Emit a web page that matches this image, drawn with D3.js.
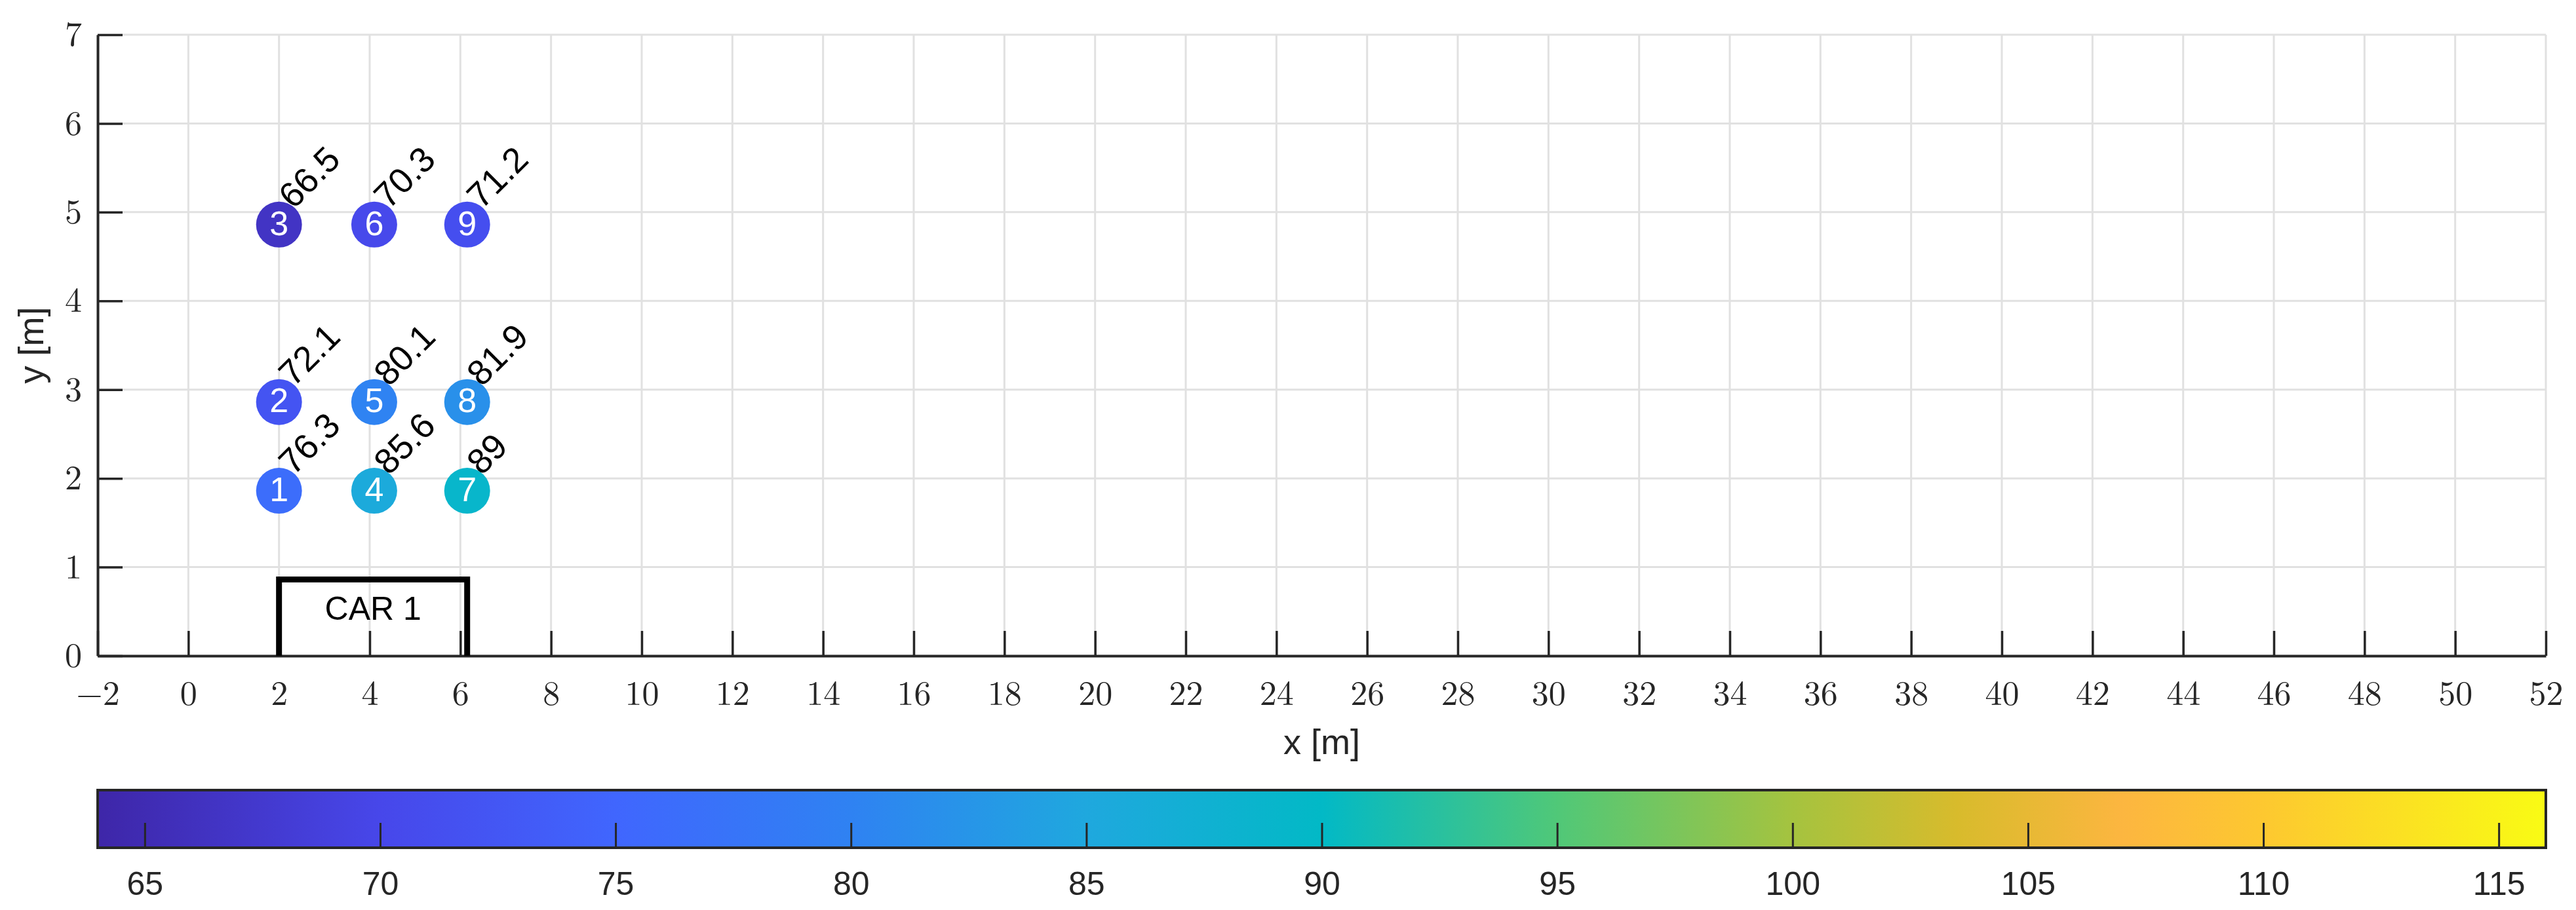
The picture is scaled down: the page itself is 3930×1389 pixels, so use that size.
<!DOCTYPE html>
<html><head><meta charset="utf-8">
<script src="https://cdn.jsdelivr.net/npm/d3@7"></script>
<style>body{margin:0;background:#fff}</style></head>
<body><svg id="c" width="3930" height="1389"></svg>
<script>
const ids = [1,2,3,4,5,6,7,8,9];
const px = [2,2,2,4.1,4.1,4.1,6.15,6.15,6.15];
const py = [1.86,2.86,4.86,1.86,2.86,4.86,1.86,2.86,4.86];
const vals = [76.3,72.1,66.5,85.6,80.1,70.3,89,81.9,71.2];
const xTicks = d3.range(-2,53,2);
const yTicks = d3.range(0,8,1);
const cTicks = [65,70,75,80,85,90,95,100,105,110,115];
const car = {x0:2, x1:6.15, h:0.86, label:"CAR 1"};
const parulaPos = [64,70,75,80,85,90,95,100,103.5,107,110,116];
const parulaCol = ["#3e26a8","#4747ea","#4066fe","#2f82f2","#1fa8de","#02b9c6","#50c878","#a5c33f","#d8bb2c","#fcb640","#fdc830","#f9fb14"];

const svg = d3.select("#c");
const L=149,R=3884,T=53,B=1001;
const x = d3.scaleLinear().domain([-2,52]).range([L,R]);
const y = d3.scaleLinear().domain([0,7]).range([B,T]);
const cmin=64,cmax=116;
const cs = d3.scaleLinear().domain(parulaPos).range(parulaCol).interpolate(d3.interpolateRgb);
const serif="'Latin Modern Roman','DejaVu Serif','Liberation Serif',serif";
const sans="'Liberation Sans',Arial,sans-serif";

svg.append("g").selectAll("line").data(xTicks).join("line")
 .attr("x1",d=>x(d)).attr("x2",d=>x(d)).attr("y1",T).attr("y2",B).attr("stroke","#e1e1e1").attr("stroke-width",3);
svg.append("g").selectAll("line").data(yTicks).join("line")
 .attr("x1",L).attr("x2",R).attr("y1",d=>y(d)).attr("y2",d=>y(d)).attr("stroke","#e1e1e1").attr("stroke-width",3);

const xa = svg.append("g").attr("transform",`translate(0,${B})`).call(d3.axisBottom(x).tickValues(xTicks).tickSizeInner(-38).tickSizeOuter(0).tickPadding(38).tickFormat(d=>d<0?"\u2212"+(-d):d));
const ya = svg.append("g").attr("transform",`translate(${L},0)`).call(d3.axisLeft(y).tickValues(yTicks).tickSizeInner(-38).tickSizeOuter(0).tickPadding(24).tickFormat(d3.format("d")));
[xa,ya].forEach(a=>{a.select(".domain").attr("stroke","#262626").attr("stroke-width",4);
 a.selectAll(".tick line").attr("stroke","#262626").attr("stroke-width",3.5);
 a.selectAll("text").attr("font-family",serif).attr("font-size",52).attr("fill","#262626");});

svg.append("text").attr("x",(L+R)/2).attr("y",1137).attr("text-anchor","middle").attr("dominant-baseline","middle")
 .attr("font-family",sans).attr("font-size",54).attr("fill","#262626").text("x [m]");
svg.append("text").attr("transform",`translate(52,${(T+B)/2}) rotate(-90)`).attr("text-anchor","middle").attr("dominant-baseline","middle")
 .attr("font-family",sans).attr("font-size",54).attr("fill","#262626").text("y [m]");

svg.append("path").attr("d",`M${x(car.x0)},${y(0)}V${y(car.h)}H${x(car.x1)}V${y(0)}`).attr("fill","none").attr("stroke","#000").attr("stroke-width",9);
svg.append("text").attr("x",x((car.x0+car.x1)/2)).attr("y",y(0.5)).attr("text-anchor","middle").attr("dominant-baseline","middle")
 .attr("font-family",sans).attr("font-size",50).text(car.label);

const g = svg.append("g");
ids.forEach((id,i)=>{
 const cx=x(px[i]), cy=y(py[i]);
 g.append("circle").attr("cx",cx).attr("cy",cy).attr("r",35).attr("fill",cs(vals[i]));
 g.append("text").attr("x",cx).attr("y",cy+2).attr("text-anchor","middle").attr("dominant-baseline","middle")
  .attr("font-family",sans).attr("font-size",52).attr("fill","#fff").text(id);
 g.append("text").attr("transform",`translate(${cx+22},${cy-22}) rotate(-45)`).attr("font-family",sans).attr("font-size",54).attr("fill","#000").text(vals[i]);
});

const CT=1206,CB=1294;
const defs=svg.append("defs");
const gr=defs.append("linearGradient").attr("id","pg");
parulaPos.forEach((p,i)=>gr.append("stop").attr("offset",((p-cmin)/(cmax-cmin)*100)+"%").attr("stop-color",parulaCol[i]));
svg.append("rect").attr("x",L).attr("y",CT).attr("width",R-L).attr("height",CB-CT).attr("fill","url(#pg)");
const cx = d3.scaleLinear().domain([cmin,cmax]).range([L,R]);
const ca = svg.append("g").attr("transform",`translate(0,${CB})`).call(d3.axisBottom(cx).tickValues(cTicks).tickSizeInner(-38).tickSizeOuter(0).tickPadding(36));
ca.select(".domain").remove();
ca.selectAll(".tick line").attr("stroke","#262626").attr("stroke-width",3);
ca.selectAll("text").attr("font-family",sans).attr("font-size",50).attr("fill","#262626");
svg.append("rect").attr("x",L).attr("y",CT).attr("width",R-L).attr("height",CB-CT).attr("fill","none").attr("stroke","#262626").attr("stroke-width",4);
</script></body></html>
